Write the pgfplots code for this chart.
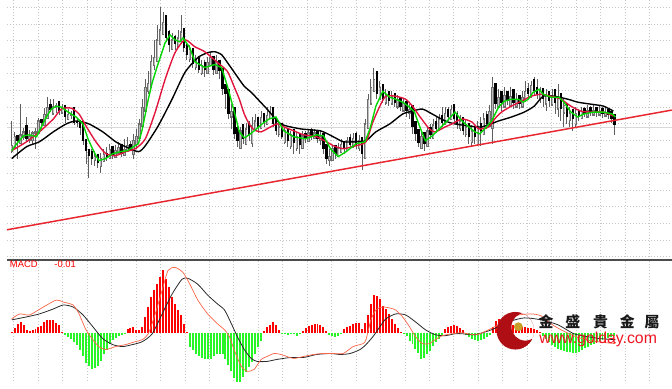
\documentclass[border=0pt]{standalone}
\usepackage{pgfplots}
\pgfplotsset{compat=1.18}
\usepackage{pgfplotstable}
\usepackage{fontspec}
\setmainfont{Liberation Sans}
\newfontfamily\cjk{Noto Sans CJK TC}
\definecolor{maG}{RGB}{0,215,0}
\definecolor{maR}{RGB}{225,20,60}
\definecolor{trend}{RGB}{232,38,48}
\definecolor{barR}{RGB}{255,0,0}
\definecolor{barG}{RGB}{40,245,40}
\definecolor{macdO}{RGB}{250,100,70}
\definecolor{sigK}{RGB}{40,40,40}
\definecolor{wick}{RGB}{95,95,95}
\definecolor{upOut}{RGB}{110,110,110}
\definecolor{upIn}{RGB}{190,190,190}
\definecolor{logoR}{RGB}{175,15,20}
\definecolor{gold}{RGB}{200,160,40}
\definecolor{webR}{RGB}{240,20,35}

% candles: x, open, high, low, close (vertical position measured from the top)
\pgfplotstableread{
x o h l c
5 153 122 154 147
8 149 133 149 138
11 136 136 160 142
14 145 105 145 136
17 139 129 141 133
20 126 118 142 140
23 142 131 144 138
26 142 132 145 134
29 135 129 150 133
32 135 119 135 122
35 120 120 130 124
38 127 109 127 115
41 120 98 120 108
44 105 100 113 111
47 115 100 115 107
50 108 104 114 106
53 102 102 116 112
56 114 105 114 109
59 106 106 124 118
62 121 110 121 115
65 116 112 120 114
68 108 108 126 124
71 122 120 128 124
74 121 121 136 129
77 122 122 146 142
80 140 140 165 152
83 150 150 180 157
86 152 150 166 160
89 162 152 168 158
92 155 155 170 164
95 168 154 175 160
98 163 150 163 156
101 154 148 162 158
104 160 145 160 151
107 147 147 160 157
110 159 146 159 152
113 155 143 155 149
116 145 145 158 155
119 157 140 157 151
122 153 138 153 147
125 145 142 152 149
128 156 135 160 142
131 146 130 150 138
134 140 120 140 125
137 128 100 128 108
140 112 80 112 88
143 92 72 95 84
146 88 55 88 62
149 66 40 70 58
152 62 25 62 40
155 45 7 45 30
158 35 12 35 22
161 15 15 42 38
164 31 30 52 45
167 50 33 50 40
170 36 35 50 44
173 48 30 48 38
176 42 15 42 32
179 28 28 52 48
182 44 44 60 55
185 60 45 62 50
188 48 48 68 64
191 68 55 70 60
194 56 56 74 70
197 74 60 76 66
200 62 60 78 70
203 74 57 74 63
206 66 52 66 58
209 56 56 76 70
212 74 55 74 62
215 60 60 80 72
218 68 68 96 90
221 85 85 110 95
224 90 90 120 115
227 118 105 130 112
230 108 108 140 135
233 128 125 148 142
236 150 128 150 132
239 125 125 145 140
242 146 124 146 130
245 124 122 142 136
248 145 118 148 127
251 132 115 132 122
254 118 118 134 128
257 130 112 130 118
260 114 114 128 124
263 126 108 126 116
266 120 107 120 112
269 108 108 128 125
272 120 120 136 132
275 136 122 138 128
278 124 124 140 138
281 144 128 145 132
284 130 130 148 142
287 148 132 150 136
290 130 130 155 144
293 150 133 152 138
296 134 134 155 146
299 150 132 150 137
302 134 132 144 140
305 143 130 143 134
308 130 129 141 138
311 140 130 140 134
314 131 131 144 140
317 142 132 146 138
320 134 134 155 150
323 145 145 165 160
326 162 150 168 158
329 162 146 162 150
332 146 146 160 155
335 158 144 158 150
338 154 140 154 146
341 142 142 155 150
344 152 138 152 142
347 138 135 150 146
350 149 134 149 140
353 134 133 150 146
356 150 136 152 142
359 138 138 172 155
362 160 120 160 125
365 130 95 130 100
368 105 80 105 88
371 92 68 92 80
374 72 72 100 95
377 100 82 100 88
380 85 85 104 100
383 104 90 106 96
386 92 92 107 102
389 105 92 105 97
392 94 94 108 104
395 108 96 110 100
398 98 98 112 108
401 112 99 112 104
404 102 102 118 112
407 114 105 120 110
410 106 106 135 128
413 122 122 142 135
416 130 130 148 144
419 150 132 150 138
422 133 133 152 145
425 148 128 148 132
428 128 125 140 136
431 140 120 140 126
434 122 118 134 130
437 132 115 132 120
440 116 108 128 124
443 126 108 126 114
446 110 108 122 118
449 121 106 121 110
452 105 105 124 120
455 114 112 130 126
458 130 116 132 122
461 118 118 136 132
464 136 120 138 128
467 124 124 145 138
470 144 126 147 132
473 128 128 145 138
476 146 122 146 128
479 124 118 147 132
482 136 114 136 120
485 115 112 130 125
488 128 106 128 112
491 130 78 145 88
494 84 84 110 105
497 108 90 108 98
500 92 92 112 104
503 108 88 108 96
506 92 92 106 102
509 107 88 108 97
512 90 90 110 104
515 108 94 108 100
518 96 96 110 105
521 108 92 108 98
524 102 82 102 92
527 89 84 100 95
530 98 82 98 86
533 80 78 96 92
536 88 80 100 96
539 100 88 104 92
542 89 89 108 100
545 105 90 112 95
548 92 92 108 102
551 106 90 106 96
554 90 90 115 104
557 110 85 118 98
560 94 94 122 110
563 114 100 128 106
566 104 104 125 118
569 122 108 128 114
572 110 110 132 120
575 126 108 128 114
578 111 110 122 117
581 120 108 120 112
584 109 108 118 115
587 118 106 118 111
590 108 107 117 114
593 116 106 116 111
596 108 108 118 114
599 116 106 117 112
602 109 108 119 115
605 117 108 118 113
608 110 110 120 116
611 112 112 124 120
614 115 115 136 126
}\candles

% MACD histogram (positive = above zero line)
\pgfplotstableread{
x h
5 1
8 5
11 9
14 11
17 8
20 3
23 2
26 3
29 4
32 6
35 7
38 11
41 13
44 13
47 13
50 10
53 8
56 1
59 -2
62 -4
65 -6
68 -9
71 -12
74 -17
77 -24
80 -31
83 -34
86 -37
89 -36
92 -34
95 -29
98 -22
101 -17
104 -11
107 -7
110 -5
113 -3
116 -2
119 -1
122 4
125 5
128 6
131 3
134 3
137 6
140 16
143 26
146 36
149 43
152 49
155 56
158 63
161 54
164 46
167 36
170 29
173 23
176 18
179 9
182 1
185 -14
188 -17
191 -21
194 -24
197 -26
200 -27
203 -27
206 -27
209 -24
212 -22
215 -21
218 -22
221 -27
224 -33
227 -39
230 -46
233 -52
236 -51
239 -45
242 -40
245 -35
248 -30
251 -22
254 -14
257 -8
260 2
263 6
266 8
269 11
272 8
275 3
278 -1
281 -1
284 -2
287 -1
290 -1
293 -3
296 -1
299 2
302 5
305 7
308 8
311 9
314 9
317 8
320 6
323 2
326 -2
329 -3
332 -4
335 -3
338 -1
341 4
344 6
347 7
350 9
353 10
356 10
359 4
362 10
365 18
368 29
371 38
374 37
377 34
380 27
383 24
386 19
389 14
392 9
395 5
398 1
401 -1
404 -3
407 -8
410 -11
413 -16
416 -20
419 -27
422 -26
425 -22
428 -18
431 -13
434 -9
437 -6
440 -3
443 4
446 6
449 7
452 8
455 7
458 5
461 3
464 -2
467 -4
470 -6
473 -7
476 -8
479 -7
482 -6
485 -4
488 -2
491 6
494 12
497 14
500 13
503 12
506 10
509 9
512 8
515 7
518 7
521 6
524 6
527 5
530 5
533 4
536 3
539 1
542 -3
545 -6
548 -9
551 -12
554 -14
557 -16
560 -17
563 -18
566 -19
569 -19
572 -20
575 -20
578 -19
581 -17
584 -15
587 -14
590 -12
593 -11
596 -9
599 -8
602 -7
605 -6
608 -5
611 -4
614 -3
}\hist

\pgfplotsset{panel/.style={scale only axis, width=672pt, xmin=0, xmax=672,
  axis line style={draw=none}, xtick={7,31.7,...,670}, xticklabels={}, yticklabels={},
  major tick length=0pt, grid=major, grid style={dash pattern=on 1pt off 2pt, gray!45, line width=0.5pt},
  anchor=south west}}

\begin{document}
\begin{tikzpicture}
% ---------------- price panel ----------------
\begin{axis}[panel, at={(0pt,123pt)}, height=262pt, ymin=0, ymax=262, y dir=reverse,
  ytick={7,23.8,...,260}]
\addplot[gray!30, line width=0.6pt, forget plot] coordinates {(0,128) (672,128)};
% wicks: from high to low
\addplot[wick, line width=0.9pt, line cap=butt, forget plot, quiver={u=0, v={\thisrow{l}-\thisrow{h}}}]
  table[x=x, y=h] {\candles};
% rising bodies (close above open): from open to close
\addplot[upOut, line width=2.4pt, line cap=butt, forget plot,
  quiver={u=0, v={\thisrow{o}>=\thisrow{c} ? \thisrow{c}-\thisrow{o}-1 : 0}}]
  table[x=x, y expr={\thisrow{o}+0.5}] {\candles};
\addplot[upIn, line width=0.8pt, line cap=butt, forget plot,
  quiver={u=0, v={\thisrow{o}-\thisrow{c}>=2.5 ? \thisrow{c}-\thisrow{o}+1.4 : 0}}]
  table[x=x, y expr={\thisrow{o}-0.7}] {\candles};
% falling bodies
\addplot[black, line width=2.4pt, line cap=butt, forget plot,
  quiver={u=0, v={\thisrow{c}>\thisrow{o} ? \thisrow{c}-\thisrow{o} : 0}}]
  table[x=x, y=o] {\candles};
% moving averages
\addplot[black, line width=1.4pt, smooth, tension=0.4] coordinates {
(5,160) (20,148) (33,143) (47,133) (60,125) (70,122) (83,125) (97,133) (110,143) (120,148)
(133,153) (140,147) (153,127) (167,100) (180,73) (193,58) (203,53) (210,52) (217,55) (223,63)
(230,73) (240,87) (247,93) (263,110) (277,125) (297,130) (317,132) (330,138) (340,143) (353,143)
(363,142) (373,133) (387,125) (400,115) (410,112) (420,110) (430,115) (443,122) (453,125) (467,127)
(480,128) (497,122) (510,118) (523,113) (533,107) (542,97) (553,97) (567,100) (577,103) (590,105)
(603,107) (613,112)};
\addplot[maR, line width=1.4pt, smooth, tension=0.4] coordinates {
(5,152) (20,143) (33,133) (47,120) (55,110) (65,109) (73,115) (80,127) (90,143) (100,155)
(110,157) (120,153) (130,150) (140,140) (150,113) (160,80) (170,53) (180,40) (190,47) (200,52)
(213,63) (223,72) (230,88) (235,100) (240,115) (245,125) (250,131) (257,133) (263,130) (273,125)
(280,128) (290,132) (300,136) (313,138) (323,143) (330,147) (340,150) (353,147) (363,143) (370,123)
(377,107) (383,97) (393,97) (403,100) (410,107) (417,117) (427,130) (433,133) (443,128) (450,125)
(460,120) (470,123) (477,130) (487,128) (493,120) (500,113) (510,107) (520,102) (530,97) (540,95)
(550,97) (560,100) (570,107) (580,112) (590,113) (603,113) (613,117)};
\addplot[maG, line width=1.4pt] coordinates {
(5,152) (10,145) (17,137) (23,136) (30,138) (35,128) (40,118) (45,110) (50,107) (55,108)
(62,113) (70,118) (77,125) (82,140) (88,153) (93,162) (100,160) (107,155) (115,153) (122,152)
(128,148) (133,145) (137,130) (143,100) (147,83) (152,67) (160,43) (165,35) (170,40) (175,42)
(178,38) (185,48) (190,62) (200,68) (210,65) (217,68) (223,87) (230,113) (235,133) (240,139)
(245,136) (250,132) (258,125) (265,120) (272,118) (280,132) (290,138) (302,140) (313,136) (320,137)
(327,150) (335,158) (343,153) (353,145) (362,143) (367,130) (373,107) (380,92) (387,98) (393,100)
(400,103) (407,108) (412,113) (417,127) (423,142) (430,137) (437,130) (445,122) (453,113) (460,122)
(467,128) (473,133) (478,135) (483,130) (490,122) (497,108) (503,102) (510,100) (517,100) (522,103)
(527,100) (532,93) (538,90) (542,95) (550,98) (558,98) (563,103) (570,113) (577,118) (583,115)
(593,113) (603,113) (612,115) (615,118)};
% trend line
\addplot[trend, line width=1.5pt] coordinates {(0,232) (672,111)};
\end{axis}

% ---------------- MACD panel ----------------
\begin{axis}[panel, at={(0pt,0pt)}, height=123pt, ymin=-49, ymax=74, ytick=\empty]
\addplot[ycomb, barR, line width=2pt, restrict y to domain=0.5:200] table[x=x, y=h] {\hist};
\addplot[ycomb, barG, line width=2pt, restrict y to domain=-200:-0.5] table[x=x, y=h] {\hist};
\addplot[sigK, line width=0.8pt, smooth, tension=0.4] coordinates {
(5,13) (20,16) (33,19) (47,24) (57,28) (67,26) (77,18) (87,6) (97,-6) (107,-12)
(117,-14) (127,-12) (137,-9) (147,-1) (157,19) (167,39) (177,54) (183,55) (193,49) (203,38)
(213,29) (220,23) (227,9) (233,-4) (240,-17) (247,-26) (253,-29) (263,-29) (273,-27) (287,-25)
(300,-25) (313,-22) (327,-21) (337,-22) (347,-21) (357,-17) (363,-12) (370,-4) (377,6) (383,14)
(393,19) (403,18) (413,11) (423,3) (433,-2) (443,-3) (453,-1) (460,-1) (473,-2) (490,3)
(507,11) (523,15) (540,13) (557,8) (573,-1) (587,-4) (600,-6) (615,-7)};
\addplot[macdO, line width=0.7pt, smooth, tension=0.4] coordinates {
(5,14) (13,19) (23,18) (37,26) (50,33) (57,31) (67,28) (73,19) (80,3) (87,-7)
(93,-14) (100,-17) (110,-14) (120,-12) (130,-9) (137,-7) (143,-1) (150,19) (157,43) (163,63)
(170,66) (178,61) (185,49) (193,33) (203,19) (213,9) (220,3) (225,-4) (230,-18) (237,-34)
(243,-39) (250,-37) (257,-27) (263,-24) (270,-21) (277,-22) (283,-24) (290,-26) (300,-24) (310,-22)
(320,-21) (330,-21) (340,-21) (350,-14) (360,-11) (363,-7) (368,13) (373,23) (380,26) (387,25)
(393,23) (400,16) (407,6) (413,-4) (420,-11) (427,-11) (433,-7) (440,-3) (450,-1) (460,0)
(475,-2) (493,6) (513,17) (530,19) (540,17) (550,9) (560,3) (575,-4) (590,-8) (605,-10) (615,-11)};
\addplot[gray!60!black, line width=1.4pt] coordinates {(0,73.3) (672,73.3)};
% labels
\node[anchor=west, inner sep=0pt, text=barR, font=\fontsize{9.5}{9.5}\selectfont] at (axis cs:3,69) {MACD};
\node[anchor=west, inner sep=0pt, text=barR, font=\fontsize{9.5}{9.5}\selectfont] at (axis cs:48,69) {-0.01};
% watermark logo
\begin{scope}
\clip (axis cs:514,2) circle[radius=19pt];
\fill[logoR, even odd rule] (axis cs:514,2) circle[radius=19pt] (axis cs:524,6) circle[radius=14pt];
\end{scope}
\fill[gold] (axis cs:517,6) circle[radius=4.5pt];
\node[inner sep=0pt, text=black!90, font=\cjk\bfseries\fontsize{15}{15}\selectfont] at (axis cs:545,11) {金};
\node[inner sep=0pt, text=black!90, font=\cjk\bfseries\fontsize{15}{15}\selectfont] at (axis cs:572,11) {盛};
\node[inner sep=0pt, text=black!90, font=\cjk\bfseries\fontsize{15}{15}\selectfont] at (axis cs:600,11) {貴};
\node[inner sep=0pt, text=black!90, font=\cjk\bfseries\fontsize{15}{15}\selectfont] at (axis cs:627,11) {金};
\node[inner sep=0pt, text=black!90, font=\cjk\bfseries\fontsize{15}{15}\selectfont] at (axis cs:652,11) {屬};
\node[anchor=base west, inner sep=0pt, text=webR, font=\fontsize{16}{16}\selectfont] at (axis cs:538,-11) {www.golday.com};
\end{axis}
\end{tikzpicture}
\end{document}
